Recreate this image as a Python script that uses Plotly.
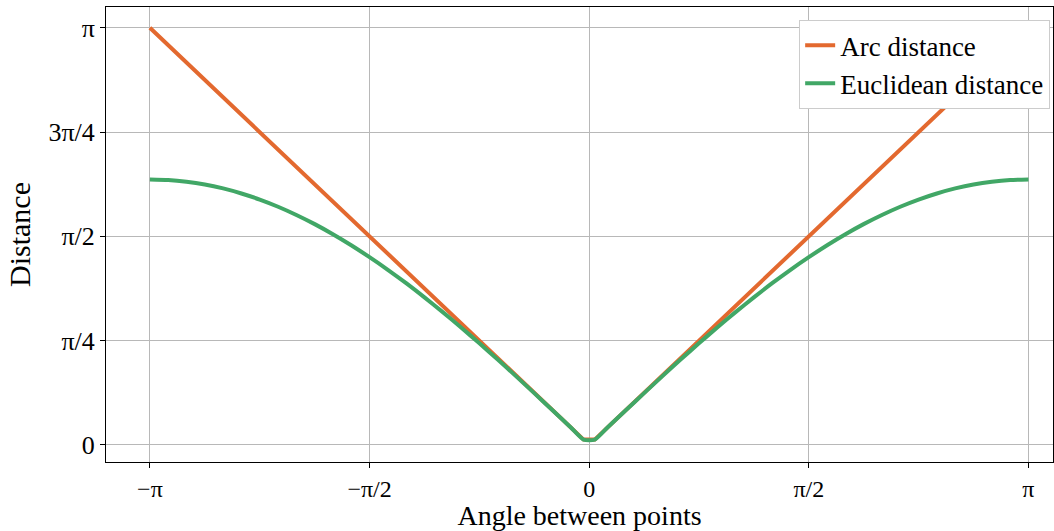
import plotly.graph_objects as go
import math

angle = [-3.142, -3.011, -2.880, -2.749, -2.618, -2.487, -2.356, -2.225, -2.094, -1.963,
         -1.833, -1.702, -1.571, -1.440, -1.309, -1.178, -1.047, -0.916, -0.785, -0.654,
         -0.524, -0.393, -0.262, -0.131, -0.040, 0.040,
         0.131, 0.262, 0.393, 0.524, 0.654, 0.785, 0.916, 1.047, 1.178, 1.309,
         1.440, 1.571, 1.702, 1.833, 1.963, 2.094, 2.225, 2.356, 2.487, 2.618,
         2.749, 2.880, 3.011, 3.142]
arc_distance = [3.142, 3.011, 2.880, 2.749, 2.618, 2.487, 2.356, 2.225, 2.094, 1.963,
                1.833, 1.702, 1.571, 1.440, 1.309, 1.178, 1.047, 0.916, 0.785, 0.654,
                0.524, 0.393, 0.262, 0.131, 0.040, 0.040,
                0.131, 0.262, 0.393, 0.524, 0.654, 0.785, 0.916, 1.047, 1.178, 1.309,
                1.440, 1.571, 1.702, 1.833, 1.963, 2.094, 2.225, 2.356, 2.487, 2.618,
                2.749, 2.880, 3.011, 3.142]
euclidean_distance = [2.000, 1.996, 1.983, 1.962, 1.932, 1.894, 1.848, 1.794, 1.732, 1.663,
                      1.587, 1.504, 1.414, 1.319, 1.218, 1.111, 1.000, 0.885, 0.765, 0.643,
                      0.518, 0.390, 0.261, 0.131, 0.040, 0.040,
                      0.131, 0.261, 0.390, 0.518, 0.643, 0.765, 0.885, 1.000, 1.111, 1.218,
                      1.319, 1.414, 1.504, 1.587, 1.663, 1.732, 1.794, 1.848, 1.894, 1.932,
                      1.962, 1.983, 1.996, 2.000]

x_tick_vals = [-3.14159, -1.5708, 0.0, 1.5708, 3.14159]
x_tick_text = ["−π", "−π/2", "0", "π/2", "π"]
y_tick_vals = [0.0, 0.7854, 1.5708, 2.3562, 3.14159]
y_tick_text = ["0", "π/4", "π/2", "3π/4", "π"]

FONT = "Liberation Serif"

fig = go.Figure()
fig.add_trace(go.Scatter(x=angle, y=arc_distance, mode="lines", name="Arc distance",
                         line=dict(color="#e3692f", width=4)))
fig.add_trace(go.Scatter(x=angle, y=euclidean_distance, mode="lines", name="Euclidean distance",
                         line=dict(color="#41a766", width=4, shape="spline", smoothing=0.6)))

axis_common = dict(showline=True, linecolor="black", linewidth=1, mirror=True,
                   ticks="outside", ticklen=5, tickcolor="black",
                   showgrid=True, gridcolor="#b8b8b8", gridwidth=1, zeroline=False)

fig.update_layout(
    width=1054, height=531,
    margin=dict(l=106, r=1, t=7, b=69),
    paper_bgcolor="white", plot_bgcolor="white",
    font=dict(family=FONT, color="black"),
    xaxis=dict(range=[-1.1 * math.pi, 1.056 * math.pi], tickvals=x_tick_vals, ticktext=x_tick_text,
               tickfont=dict(family=FONT, size=24, color="black"),
               title=dict(text="Angle between points", font=dict(family=FONT, size=28), standoff=6),
               **axis_common),
    yaxis=dict(range=[-0.041 * math.pi, 1.05 * math.pi], tickvals=y_tick_vals, ticktext=y_tick_text,
               tickfont=dict(family=FONT, size=26, color="black"),
               title=dict(text="Distance", font=dict(family=FONT, size=30), standoff=8),
               **axis_common),
    legend=dict(x=0.997, y=0.971, xanchor="right", yanchor="top",
                bgcolor="white", bordercolor="#cccccc", borderwidth=1,
                itemwidth=30, tracegroupgap=4,
                font=dict(family=FONT, size=27)),
    showlegend=True,
)

fig.write_html("out.html", config={"displayModeBar": False},
               post_script="document.body.style.margin='0';document.body.style.overflow='hidden';")
